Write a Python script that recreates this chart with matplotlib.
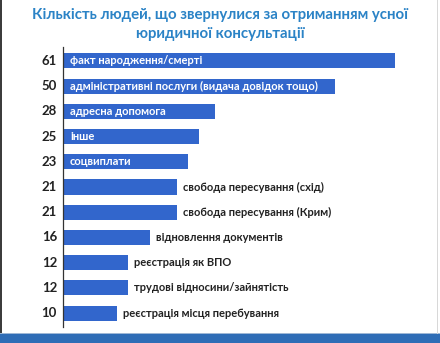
import matplotlib
matplotlib.use("Agg")
import matplotlib.pyplot as plt
from matplotlib.patches import Rectangle

plt.rcParams['font.family'] = ['Lato', 'DejaVu Sans']

categories = [
    "факт народження/смерті",
    "адміністративні послуги (видача довідок тощо)",
    "адресна допомога",
    "інше",
    "соцвиплати",
    "свобода пересування (схід)",
    "свобода пересування (Крим)",
    "відновлення документів",
    "реєстрація як ВПО",
    "трудові відносини/зайнятість",
    "реєстрація місця перебування",
]
counts = [61, 50, 28, 25, 23, 21, 21, 16, 12, 12, 10]
inside_count = 5  # first bars carry their label inside

bar_color = "#3266cc"
title_color = "#2b83c6"
text_color = "#222222"

fig = plt.figure(figsize=(4.4, 3.43), dpi=100)
fig.patch.set_facecolor("white")

# page frame: dark left edge, blue footer band
fig.add_artist(Rectangle((0, 0), 2 / 440, 1, transform=fig.transFigure,
                         color="#3c3c3c", lw=0))
fig.add_artist(Rectangle((0, 0), 1, 9 / 343, transform=fig.transFigure,
                         color="#2f6db6", lw=0))
fig.add_artist(Rectangle((0, 9 / 343), 1, 1.2 / 343, transform=fig.transFigure,
                         color="#9fb8d6", lw=0))
fig.add_artist(Rectangle((437 / 440, 9 / 343), 1 / 440, 1, transform=fig.transFigure,
                         color="#d8d8d8", lw=0))

fig.text(0.5, 1 - 15 / 343, "Кількість людей, що звернулися за отриманням усної",
         ha="center", va="center", fontsize=10.8, fontweight="bold", color=title_color)
fig.text(0.5, 1 - 34 / 343, "юридичної консультації",
         ha="center", va="center", fontsize=10.8, fontweight="bold", color=title_color)

# axes: x from 63px, bars scaled so 61 ends at ~395px
ax = fig.add_axes([63 / 440, 1 - 327 / 343, 400 / 440, (327 - 47) / 343])
ypos = list(range(len(categories)))
ax.barh(ypos, counts, height=0.6, color=bar_color)
ax.set_ylim(len(categories) - 0.45, -0.55)
ax.set_xlim(0, 61 * 400 / 332)

for i, (cat, n) in enumerate(zip(categories, counts)):
    ax.text(-1.1, i, str(n), ha="right", va="center", fontsize=9.5,
            fontweight="bold", color=text_color)
    if i < inside_count:
        ax.text(1.3, i, cat, ha="left", va="center", fontsize=8,
                fontweight="bold", color="white")
    else:
        ax.text(n + 1.0, i, cat, ha="left", va="center", fontsize=8,
                fontweight="bold", color=text_color)

ax.set_xticks([])
ax.set_yticks([])
for side in ["top", "right", "bottom"]:
    ax.spines[side].set_visible(False)
ax.spines["left"].set_color("#333333")
ax.spines["left"].set_linewidth(0.9)
ax.patch.set_alpha(0)

fig.savefig("out.png", dpi=100)
